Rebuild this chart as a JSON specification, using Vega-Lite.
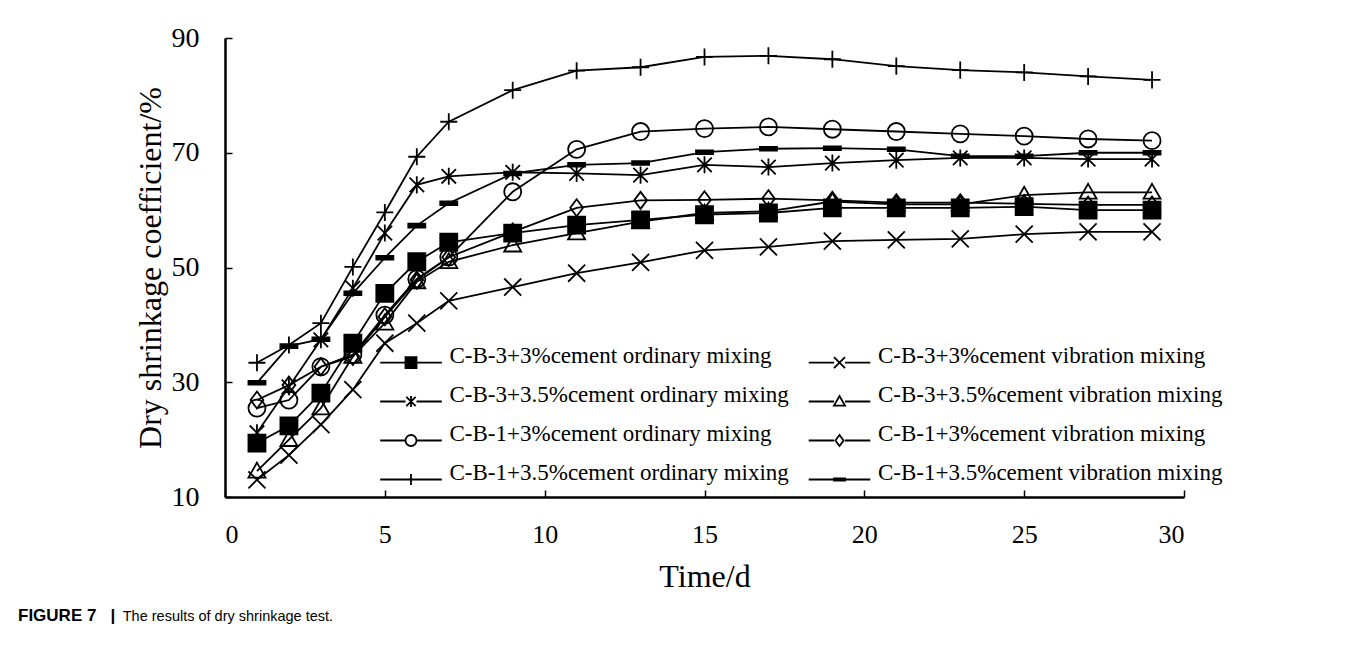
{
  "$schema": "https://vega.github.io/schema/vega-lite/v6.json",
  "width": 959,
  "height": 459,
  "autosize": "none",
  "padding": {"left": 225, "top": 38, "right": 176, "bottom": 150},
  "background": "white",
  "config": {"view": {"stroke": null}, "font": "Liberation Serif"},
  "title": {
    "text": "FIGURE 7\u00a0\u00a0\u00a0|",
    "subtitle": "\u200b\u00a0\u00a0\u00a0\u00a0\u00a0\u00a0\u00a0\u00a0\u00a0\u00a0\u00a0\u00a0\u00a0\u00a0\u00a0\u00a0\u00a0\u00a0\u00a0\u00a0\u00a0\u00a0\u00a0\u00a0\u00a0\u00a0The results of dry shrinkage test.",
    "orient": "bottom",
    "anchor": "start",
    "frame": "group",
    "dx": -207,
    "offset": 16,
    "font": "Liberation Sans",
    "fontSize": 17,
    "fontWeight": "bold",
    "color": "black",
    "subtitleFont": "Liberation Sans",
    "subtitleFontSize": 14.5,
    "subtitleFontWeight": "normal",
    "subtitleColor": "black",
    "subtitlePadding": -15
  },
  "data": {"values": [
    {"s":"C-B-3+3%cement ordinary mixing","t":1,"v":19.4},{"s":"C-B-3+3%cement ordinary mixing","t":2,"v":22.4},{"s":"C-B-3+3%cement ordinary mixing","t":3,"v":28.1},{"s":"C-B-3+3%cement ordinary mixing","t":4,"v":36.8},{"s":"C-B-3+3%cement ordinary mixing","t":5,"v":45.5},{"s":"C-B-3+3%cement ordinary mixing","t":6,"v":51.0},{"s":"C-B-3+3%cement ordinary mixing","t":7,"v":54.4},{"s":"C-B-3+3%cement ordinary mixing","t":9,"v":56.0},{"s":"C-B-3+3%cement ordinary mixing","t":11,"v":57.4},{"s":"C-B-3+3%cement ordinary mixing","t":13,"v":58.3},{"s":"C-B-3+3%cement ordinary mixing","t":15,"v":59.2},{"s":"C-B-3+3%cement ordinary mixing","t":17,"v":59.5},{"s":"C-B-3+3%cement ordinary mixing","t":19,"v":60.4},{"s":"C-B-3+3%cement ordinary mixing","t":21,"v":60.4},{"s":"C-B-3+3%cement ordinary mixing","t":23,"v":60.4},{"s":"C-B-3+3%cement ordinary mixing","t":25,"v":60.6},{"s":"C-B-3+3%cement ordinary mixing","t":27,"v":60.0},{"s":"C-B-3+3%cement ordinary mixing","t":29,"v":60.0},
    {"s":"C-B-3+3%cement vibration mixing","t":1,"v":13.0},{"s":"C-B-3+3%cement vibration mixing","t":2,"v":17.3},{"s":"C-B-3+3%cement vibration mixing","t":3,"v":22.6},{"s":"C-B-3+3%cement vibration mixing","t":4,"v":28.7},{"s":"C-B-3+3%cement vibration mixing","t":5,"v":36.8},{"s":"C-B-3+3%cement vibration mixing","t":6,"v":40.3},{"s":"C-B-3+3%cement vibration mixing","t":7,"v":44.2},{"s":"C-B-3+3%cement vibration mixing","t":9,"v":46.6},{"s":"C-B-3+3%cement vibration mixing","t":11,"v":49.0},{"s":"C-B-3+3%cement vibration mixing","t":13,"v":50.9},{"s":"C-B-3+3%cement vibration mixing","t":15,"v":53.0},{"s":"C-B-3+3%cement vibration mixing","t":17,"v":53.6},{"s":"C-B-3+3%cement vibration mixing","t":19,"v":54.6},{"s":"C-B-3+3%cement vibration mixing","t":21,"v":54.8},{"s":"C-B-3+3%cement vibration mixing","t":23,"v":55.0},{"s":"C-B-3+3%cement vibration mixing","t":25,"v":55.8},{"s":"C-B-3+3%cement vibration mixing","t":27,"v":56.2},{"s":"C-B-3+3%cement vibration mixing","t":29,"v":56.2},
    {"s":"C-B-3+3.5%cement ordinary mixing","t":1,"v":21.2},{"s":"C-B-3+3.5%cement ordinary mixing","t":2,"v":29.2},{"s":"C-B-3+3.5%cement ordinary mixing","t":3,"v":37.4},{"s":"C-B-3+3.5%cement ordinary mixing","t":4,"v":46.4},{"s":"C-B-3+3.5%cement ordinary mixing","t":5,"v":56.0},{"s":"C-B-3+3.5%cement ordinary mixing","t":6,"v":64.4},{"s":"C-B-3+3.5%cement ordinary mixing","t":7,"v":65.9},{"s":"C-B-3+3.5%cement ordinary mixing","t":9,"v":66.6},{"s":"C-B-3+3.5%cement ordinary mixing","t":11,"v":66.4},{"s":"C-B-3+3.5%cement ordinary mixing","t":13,"v":66.1},{"s":"C-B-3+3.5%cement ordinary mixing","t":15,"v":67.9},{"s":"C-B-3+3.5%cement ordinary mixing","t":17,"v":67.5},{"s":"C-B-3+3.5%cement ordinary mixing","t":19,"v":68.2},{"s":"C-B-3+3.5%cement ordinary mixing","t":21,"v":68.7},{"s":"C-B-3+3.5%cement ordinary mixing","t":23,"v":69.1},{"s":"C-B-3+3.5%cement ordinary mixing","t":25,"v":69.1},{"s":"C-B-3+3.5%cement ordinary mixing","t":27,"v":68.9},{"s":"C-B-3+3.5%cement ordinary mixing","t":29,"v":68.9},
    {"s":"C-B-3+3.5%cement vibration mixing","t":1,"v":14.5},{"s":"C-B-3+3.5%cement vibration mixing","t":2,"v":20.0},{"s":"C-B-3+3.5%cement vibration mixing","t":3,"v":25.5},{"s":"C-B-3+3.5%cement vibration mixing","t":4,"v":34.5},{"s":"C-B-3+3.5%cement vibration mixing","t":5,"v":40.3},{"s":"C-B-3+3.5%cement vibration mixing","t":6,"v":47.5},{"s":"C-B-3+3.5%cement vibration mixing","t":7,"v":51.0},{"s":"C-B-3+3.5%cement vibration mixing","t":9,"v":53.9},{"s":"C-B-3+3.5%cement vibration mixing","t":11,"v":56.0},{"s":"C-B-3+3.5%cement vibration mixing","t":13,"v":58.0},{"s":"C-B-3+3.5%cement vibration mixing","t":15,"v":59.5},{"s":"C-B-3+3.5%cement vibration mixing","t":17,"v":59.8},{"s":"C-B-3+3.5%cement vibration mixing","t":19,"v":61.5},{"s":"C-B-3+3.5%cement vibration mixing","t":21,"v":61.0},{"s":"C-B-3+3.5%cement vibration mixing","t":23,"v":61.0},{"s":"C-B-3+3.5%cement vibration mixing","t":25,"v":62.6},{"s":"C-B-3+3.5%cement vibration mixing","t":27,"v":63.1},{"s":"C-B-3+3.5%cement vibration mixing","t":29,"v":63.1},
    {"s":"C-B-1+3%cement ordinary mixing","t":1,"v":25.5},{"s":"C-B-1+3%cement ordinary mixing","t":2,"v":26.9},{"s":"C-B-1+3%cement ordinary mixing","t":3,"v":32.7},{"s":"C-B-1+3%cement ordinary mixing","t":4,"v":34.8},{"s":"C-B-1+3%cement ordinary mixing","t":5,"v":41.7},{"s":"C-B-1+3%cement ordinary mixing","t":6,"v":48.0},{"s":"C-B-1+3%cement ordinary mixing","t":7,"v":51.8},{"s":"C-B-1+3%cement ordinary mixing","t":9,"v":63.2},{"s":"C-B-1+3%cement ordinary mixing","t":11,"v":70.6},{"s":"C-B-1+3%cement ordinary mixing","t":13,"v":73.7},{"s":"C-B-1+3%cement ordinary mixing","t":15,"v":74.2},{"s":"C-B-1+3%cement ordinary mixing","t":17,"v":74.5},{"s":"C-B-1+3%cement ordinary mixing","t":19,"v":74.1},{"s":"C-B-1+3%cement ordinary mixing","t":21,"v":73.7},{"s":"C-B-1+3%cement ordinary mixing","t":23,"v":73.3},{"s":"C-B-1+3%cement ordinary mixing","t":25,"v":72.9},{"s":"C-B-1+3%cement ordinary mixing","t":27,"v":72.4},{"s":"C-B-1+3%cement ordinary mixing","t":29,"v":72.1},
    {"s":"C-B-1+3%cement vibration mixing","t":1,"v":26.9},{"s":"C-B-1+3%cement vibration mixing","t":2,"v":29.5},{"s":"C-B-1+3%cement vibration mixing","t":3,"v":32.7},{"s":"C-B-1+3%cement vibration mixing","t":4,"v":34.5},{"s":"C-B-1+3%cement vibration mixing","t":5,"v":41.4},{"s":"C-B-1+3%cement vibration mixing","t":6,"v":47.8},{"s":"C-B-1+3%cement vibration mixing","t":7,"v":51.8},{"s":"C-B-1+3%cement vibration mixing","t":9,"v":56.2},{"s":"C-B-1+3%cement vibration mixing","t":11,"v":60.4},{"s":"C-B-1+3%cement vibration mixing","t":13,"v":61.7},{"s":"C-B-1+3%cement vibration mixing","t":15,"v":61.8},{"s":"C-B-1+3%cement vibration mixing","t":17,"v":62.0},{"s":"C-B-1+3%cement vibration mixing","t":19,"v":61.7},{"s":"C-B-1+3%cement vibration mixing","t":21,"v":61.3},{"s":"C-B-1+3%cement vibration mixing","t":23,"v":61.3},{"s":"C-B-1+3%cement vibration mixing","t":25,"v":61.1},{"s":"C-B-1+3%cement vibration mixing","t":27,"v":60.9},{"s":"C-B-1+3%cement vibration mixing","t":29,"v":60.9},
    {"s":"C-B-1+3.5%cement ordinary mixing","t":1,"v":33.4},{"s":"C-B-1+3.5%cement ordinary mixing","t":2,"v":36.5},{"s":"C-B-1+3.5%cement ordinary mixing","t":3,"v":40.3},{"s":"C-B-1+3.5%cement ordinary mixing","t":4,"v":50.1},{"s":"C-B-1+3.5%cement ordinary mixing","t":5,"v":59.6},{"s":"C-B-1+3.5%cement ordinary mixing","t":6,"v":69.3},{"s":"C-B-1+3.5%cement ordinary mixing","t":7,"v":75.4},{"s":"C-B-1+3.5%cement ordinary mixing","t":9,"v":80.9},{"s":"C-B-1+3.5%cement ordinary mixing","t":11,"v":84.3},{"s":"C-B-1+3.5%cement ordinary mixing","t":13,"v":84.9},{"s":"C-B-1+3.5%cement ordinary mixing","t":15,"v":86.7},{"s":"C-B-1+3.5%cement ordinary mixing","t":17,"v":86.9},{"s":"C-B-1+3.5%cement ordinary mixing","t":19,"v":86.3},{"s":"C-B-1+3.5%cement ordinary mixing","t":21,"v":85.1},{"s":"C-B-1+3.5%cement ordinary mixing","t":23,"v":84.4},{"s":"C-B-1+3.5%cement ordinary mixing","t":25,"v":84.0},{"s":"C-B-1+3.5%cement ordinary mixing","t":27,"v":83.3},{"s":"C-B-1+3.5%cement ordinary mixing","t":29,"v":82.7},
    {"s":"C-B-1+3.5%cement vibration mixing","t":1,"v":29.9},{"s":"C-B-1+3.5%cement vibration mixing","t":2,"v":36.3},{"s":"C-B-1+3.5%cement vibration mixing","t":3,"v":37.5},{"s":"C-B-1+3.5%cement vibration mixing","t":4,"v":45.5},{"s":"C-B-1+3.5%cement vibration mixing","t":5,"v":51.7},{"s":"C-B-1+3.5%cement vibration mixing","t":6,"v":57.3},{"s":"C-B-1+3.5%cement vibration mixing","t":7,"v":61.2},{"s":"C-B-1+3.5%cement vibration mixing","t":9,"v":66.4},{"s":"C-B-1+3.5%cement vibration mixing","t":11,"v":67.9},{"s":"C-B-1+3.5%cement vibration mixing","t":13,"v":68.2},{"s":"C-B-1+3.5%cement vibration mixing","t":15,"v":70.1},{"s":"C-B-1+3.5%cement vibration mixing","t":17,"v":70.7},{"s":"C-B-1+3.5%cement vibration mixing","t":19,"v":70.8},{"s":"C-B-1+3.5%cement vibration mixing","t":21,"v":70.6},{"s":"C-B-1+3.5%cement vibration mixing","t":23,"v":69.4},{"s":"C-B-1+3.5%cement vibration mixing","t":25,"v":69.4},{"s":"C-B-1+3.5%cement vibration mixing","t":27,"v":70.0},{"s":"C-B-1+3.5%cement vibration mixing","t":29,"v":70.0}
  ]},
  "encoding": {
    "x": {"field": "t", "type": "quantitative",
      "scale": {"domain": [0, 30], "nice": false, "zero": false},
      "axis": {"values": [0,5,10,15,20,25,30], "grid": false, "domainColor": "black", "domainWidth": 2.5,
        "tickColor": "black", "tickSize": -7, "tickWidth": 1.5, "labelFont": "Liberation Serif", "labelFontSize": 26,
        "labelColor": "black", "labelPadding": 31, "title": "Time/d", "titleFont": "Liberation Serif",
        "titleFontSize": 32, "titleFontWeight": "normal", "titleColor": "black", "titlePadding": 14}},
    "y": {"field": "v", "type": "quantitative",
      "scale": {"domain": [10, 90], "nice": false, "zero": false},
      "axis": {"values": [10,30,50,70,90], "grid": false, "domainColor": "black", "domainWidth": 2.5,
        "tickColor": "black", "tickSize": -7, "tickWidth": 1.5, "labelFont": "Liberation Serif", "labelFontSize": 28,
        "labelColor": "black", "labelPadding": 33, "title": "Dry shrinkage coefficient/%", "titleFont": "Liberation Serif",
        "titleFontSize": 32, "titleFontWeight": "normal", "titleColor": "black", "titlePadding": 4}}
  },
  "layer": [
    {"mark": {"type": "line", "stroke": "black", "strokeWidth": 1.8},
     "encoding": {"detail": {"field": "s"}}},
    {"mark": {"type": "point", "filled": true, "size": 290, "stroke": "black", "strokeWidth": 1.8, "opacity": 1},
     "encoding": {
       "fill": {"condition": {"test": "datum.s === 'C-B-3+3%cement ordinary mixing' || datum.s === 'C-B-1+3.5%cement vibration mixing'", "value": "black"}, "value": "transparent"},
       "shape": {"field": "s", "type": "nominal", "legend": null,
         "scale": {
           "domain": ["C-B-3+3%cement ordinary mixing","C-B-3+3.5%cement ordinary mixing","C-B-1+3%cement ordinary mixing","C-B-1+3.5%cement ordinary mixing","C-B-3+3%cement vibration mixing","C-B-3+3.5%cement vibration mixing","C-B-1+3%cement vibration mixing","C-B-1+3.5%cement vibration mixing"],
           "range": ["M-1,-1H1V1H-1Z","M0,-1V1M-0.85,-0.85L0.85,0.85M-0.85,0.85L0.85,-0.85","M1,0A1,1,0,1,1,-1,0A1,1,0,1,1,1,0Z","M-1,0H1M0,-1V1","M-1,-1L1,1M-1,1L1,-1","M0,-1L1,0.75H-1Z","M0,-1L0.75,0L0,1L-0.75,0Z","M-1,-0.22H1V0.22H-1Z"]}}
     }},
    {"mark": {"type": "point", "filled": true, "size": 121, "stroke": "black", "strokeWidth": 1.8, "opacity": 0},
     "encoding": {
       "shape": {"field": "s", "type": "nominal",
         "scale": {
           "domain": ["C-B-3+3%cement ordinary mixing","C-B-3+3.5%cement ordinary mixing","C-B-1+3%cement ordinary mixing","C-B-1+3.5%cement ordinary mixing","C-B-3+3%cement vibration mixing","C-B-3+3.5%cement vibration mixing","C-B-1+3%cement vibration mixing","C-B-1+3.5%cement vibration mixing"],
           "range": ["M-1,-1H1V1H-1ZM-5.6,0H-1M1,0H5.6","M0,-1V1M-0.85,-0.85L0.85,0.85M-0.85,0.85L0.85,-0.85M-5.6,0H-1M1,0H5.6","M1,0A1,1,0,1,1,-1,0A1,1,0,1,1,1,0ZM-5.6,0H-1M1,0H5.6","M-1,0H1M0,-1V1M-5.6,0H-1M1,0H5.6","M-1,-1L1,1M-1,1L1,-1M-5.6,0H-1M1,0H5.6","M0,-1L1,0.75H-1ZM-5.6,0H-1M1,0H5.6","M0,-1L0.75,0L0,1L-0.75,0ZM-5.6,0H-1M1,0H5.6","M-1,-0.22H1V0.22H-1ZM-5.6,0H-1M1,0H5.6"]},
         "legend": {"orient": "none", "legendX": 149, "legendY": 313, "columns": 2, "title": null,
           "labelFont": "Liberation Serif", "labelFontSize": 23, "labelColor": "black", "labelLimit": 0, "labelBaseline": "alphabetic",
           "symbolSize": 121, "symbolOffset": 25.5, "labelOffset": 27, "rowPadding": 11, "columnPadding": 13.5, "padding": 0,
           "symbolStrokeColor": "black", "symbolStrokeWidth": 1.8,
           "encoding": {
             "symbols": {
               "fill": {"value": {"expr": "datum.value === 'C-B-3+3%cement ordinary mixing' || datum.value === 'C-B-1+3.5%cement vibration mixing' ? 'black' : 'transparent'"}},
               "stroke": {"value": "black"},
               "opacity": {"value": 1}
             }
           }}}
     }}
  ],
  "resolve": {"scale": {"shape": "independent"}, "legend": {"shape": "independent"}}
}
